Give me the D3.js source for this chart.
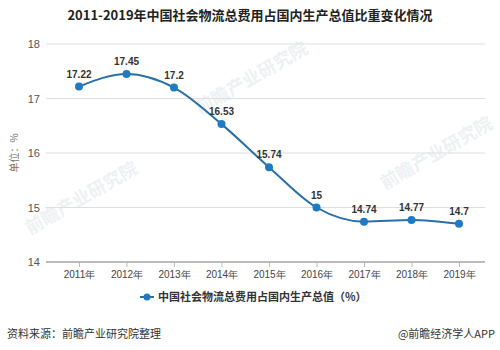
<!DOCTYPE html>
<html>
<head>
<meta charset="utf-8">
<script src="https://cdn.jsdelivr.net/npm/d3@7"></script>
<style>
  html, body { margin: 0; padding: 0; background: #fff; }
  svg { display: block; font-family: "Microsoft YaHei", "Noto Sans CJK SC", sans-serif; }
</style>
</head>
<body>
<svg id="chart" width="500" height="350"></svg>
<script>
// Share of total social logistics cost in GDP, 2011-2019
const years = ["2011年", "2012年", "2013年", "2014年", "2015年", "2016年", "2017年", "2018年", "2019年"];
const values = [17.22, 17.45, 17.2, 16.53, 15.74, 15, 14.74, 14.77, 14.7];
const yTicks = [14, 15, 16, 17, 18];
const titleText = "2011-2019年中国社会物流总费用占国内生产总值比重变化情况";
const seriesName = "中国社会物流总费用占国内生产总值（%）";
const unitText = "单位：%";
const sourceText = "资料来源：前瞻产业研究院整理";
const brandText = "@前瞻经济学人APP";

const svg = d3.select("#chart");
const lineColor = "#2a6fa6";
const dotColor = "#1f7ac4";

const x = d3.scalePoint().domain(years).range([79, 459]);
const y = d3.scaleLinear().domain([14, 18]).range([262, 44]);

// faint watermarks
const wm = svg.append("g").attr("fill", "#eef1f4").attr("font-weight", "bold");
[[30, 235, 18], [200, 115, 18], [385, 190, 18]].forEach(([wx, wy, fs]) => {
  wm.append("text").attr("transform", `translate(${wx},${wy}) rotate(-30)`)
    .attr("font-size", fs).text("前瞻产业研究院");
});

// title
svg.append("text").attr("x", 250).attr("y", 20).attr("text-anchor", "middle")
  .attr("font-size", 13).attr("font-weight", "bold").attr("fill", "#222").text(titleText);

// gridlines
svg.append("g").selectAll("line").data(yTicks.filter(d => d !== 14)).join("line")
  .attr("x1", 46).attr("x2", 485)
  .attr("y1", d => y(d)).attr("y2", d => y(d))
  .attr("stroke", "#dedede").attr("stroke-width", 1);

// y axis labels
const yAxis = d3.axisLeft(y).tickValues(yTicks).tickSize(0).tickPadding(0).tickFormat(d3.format("d"));
const gy = svg.append("g").attr("transform", "translate(40,0)").call(yAxis);
gy.select(".domain").remove();
gy.selectAll("text").attr("font-size", 11).attr("fill", "#555").attr("font-family", "Arial, 'Liberation Sans', sans-serif");

// x axis
const xAxis = d3.axisBottom(x).tickSize(5).tickPadding(4);
const gx = svg.append("g").attr("transform", `translate(0,${y(14)})`).call(xAxis);
gx.select(".domain").attr("d", "M46,0H485").attr("stroke", "#bbb").attr("stroke-width", 2);
gx.selectAll(".tick line").attr("stroke", "#bbb");
gx.selectAll("text").attr("font-size", 10).attr("fill", "#444");

// unit label
svg.append("text").attr("transform", `translate(18,${y(16)}) rotate(-90)`)
  .attr("text-anchor", "middle").attr("font-size", 10).attr("fill", "#777").text(unitText);

// line
const line = d3.line().x((d, i) => x(years[i])).y(d => y(d)).curve(d3.curveMonotoneX);
svg.append("path").datum(values).attr("d", line)
  .attr("fill", "none").attr("stroke", lineColor).attr("stroke-width", 2);

svg.append("g").selectAll("circle").data(values).join("circle")
  .attr("cx", (d, i) => x(years[i])).attr("cy", d => y(d)).attr("r", 4)
  .attr("fill", dotColor);

svg.append("g").selectAll("text").data(values).join("text")
  .attr("x", (d, i) => x(years[i])).attr("y", d => y(d) - 9)
  .attr("text-anchor", "middle").attr("font-size", 10).attr("font-weight", "bold")
  .attr("fill", "#333").attr("font-family", "Arial, 'Liberation Sans', sans-serif")
  .text(d => d);

// legend
const lg = svg.append("g").attr("transform", "translate(147,297)");
lg.append("line").attr("x1", -7).attr("x2", 7).attr("stroke", lineColor).attr("stroke-width", 2);
lg.append("circle").attr("r", 3.5).attr("fill", dotColor);
lg.append("text").attr("x", 11).attr("y", 4).attr("font-size", 11).attr("font-weight", "bold")
  .attr("fill", "#333").text(seriesName);

// footer
svg.append("text").attr("x", 7).attr("y", 338).attr("font-size", 11).attr("fill", "#333").text(sourceText);
svg.append("text").attr("x", 495).attr("y", 338).attr("text-anchor", "end").attr("font-size", 11).attr("fill", "#333").text(brandText);
</script>
</body>
</html>
